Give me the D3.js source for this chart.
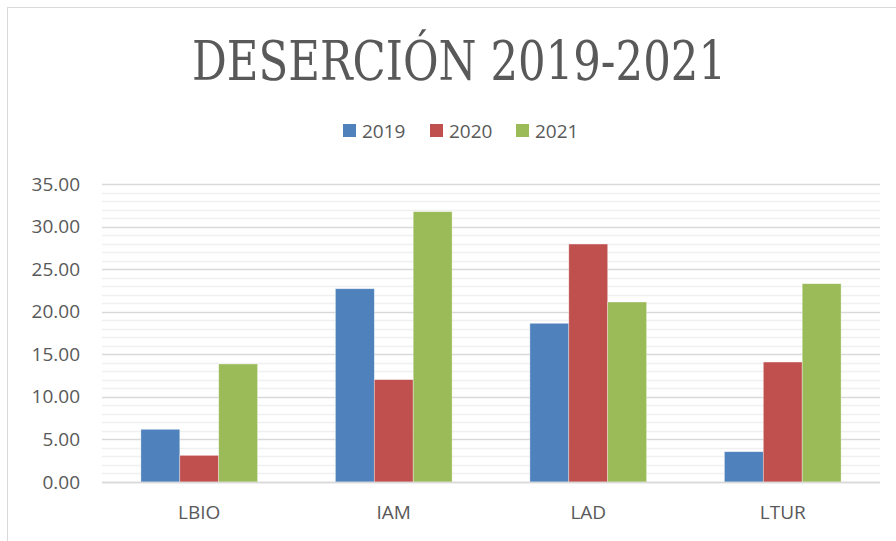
<!DOCTYPE html>
<meta charset="utf-8">
<style>
body { margin: 0; background: #fff; }
text { fill: #595959; }
</style>
<svg width="896" height="541"></svg>
<script src="https://d3js.org/d3.v7.min.js"></script>
<script>

var categories = ["LBIO", "IAM", "LAD", "LTUR"];
var seriesNames = ["2019", "2020", "2021"];
var values2019 = [6.19, 22.70, 18.64, 3.56];
var values2020 = [3.13, 12.02, 27.95, 14.09];
var values2021 = [13.86, 31.75, 21.14, 23.29];
var yTicks = [0, 5, 10, 15, 20, 25, 30, 35];
var colours = ["#4f81bd", "#c0504d", "#9bbb59"];

var series = [values2019, values2020, values2021];

var svg = d3.select("svg"),
    width = +svg.attr("width"),
    height = +svg.attr("height");

// chart area border
svg.append("rect")
   .attr("x", 7.5).attr("y", 7.5)
   .attr("width", 900).attr("height", 540)
   .attr("fill", "#fff")
   .attr("stroke", "#d9d9d9");

var plotLeft = 102, plotRight = 880, plotTop = 184, plotBottom = 482;

var x = d3.scaleBand().domain(categories).range([plotLeft, plotRight]).paddingInner(0).paddingOuter(0);
var y = d3.scaleLinear().domain([0, 35]).range([plotBottom, plotTop]);

// minor gridlines
svg.append("g")
   .selectAll("line")
   .data(d3.range(0, 36, 1).filter(function(d) { return d % 5 != 0; }))
   .enter().append("line")
   .attr("x1", plotLeft).attr("x2", plotRight)
   .attr("y1", function(d) { return Math.round(y(d)) + 0.5; })
   .attr("y2", function(d) { return Math.round(y(d)) + 0.5; })
   .style("stroke", "#f0f0f0")
   .style("stroke-width", "1.5");

// major gridlines
svg.append("g")
   .selectAll("line")
   .data(yTicks)
   .enter().append("line")
   .attr("x1", plotLeft).attr("x2", plotRight)
   .attr("y1", function(d) { return Math.round(y(d)) + 0.5; })
   .attr("y2", function(d) { return Math.round(y(d)) + 0.5; })
   .style("stroke", "#d9d9d9")
   .style("stroke-width", "1.5");

// y axis labels
var yAxis = d3.axisLeft(y).tickValues(yTicks).tickFormat(d3.format(".2f")).tickSize(0).tickPadding(0);
var ya = svg.append("g")
   .attr("transform", "translate(80,0)")
   .call(yAxis);
ya.select(".domain").remove();
ya.selectAll("text")
   .style("font-family", "'Open Sans', sans-serif")
   .style("font-size", "19px")
   .attr("fill", "#595959");

// bars
var barW = x.bandwidth() / 5;
var groups = svg.append("g");
series.forEach(function(vals, s) {
  groups.append("g")
     .selectAll("rect")
     .data(vals)
     .enter().append("rect")
     .attr("x", function(d, i) { return x(categories[i]) + barW + s * barW; })
     .attr("y", function(d) { return y(d); })
     .attr("width", barW)
     .attr("height", function(d) { return y(0) - y(d); })
     .attr("fill", colours[s])
     .attr("stroke", "rgba(255,255,255,0.5)")
     .attr("stroke-width", 0.7);
});

// baseline
svg.append("line")
   .attr("x1", plotLeft).attr("x2", plotRight)
   .attr("y1", y(0) + 0.5).attr("y2", y(0) + 0.5)
   .style("stroke", "#d9d9d9")
   .style("stroke-width", "1.5");

// x axis labels
var xAxis = d3.axisBottom(x).tickSize(0).tickPadding(0);
var xa = svg.append("g")
   .attr("transform", "translate(0,505)")
   .call(xAxis);
xa.select(".domain").remove();
xa.selectAll("text")
   .style("font-family", "'Open Sans', sans-serif")
   .style("font-size", "19px")
   .attr("fill", "#595959");

// title
svg.append("text")
   .attr("x", 459)
   .attr("y", 80)
   .attr("text-anchor", "middle")
   .attr("textLength", 534)
   .attr("lengthAdjust", "spacingAndGlyphs")
   .style("font-family", "'DejaVu Serif Condensed', 'DejaVu Serif', serif")
   .style("font-size", "54px")
   .attr("fill", "#595959")
   .text("DESERCIÓN 2019-2021");

// legend
var legendX = [343, 430, 516];
var legend = svg.append("g");
seriesNames.forEach(function(name, i) {
  legend.append("rect")
     .attr("x", legendX[i]).attr("y", 124)
     .attr("width", 13).attr("height", 13)
     .attr("fill", colours[i]);
  legend.append("text")
     .attr("x", legendX[i] + 19).attr("y", 138)
     .style("font-family", "'Open Sans', sans-serif")
     .style("font-size", "19px")
     .attr("fill", "#595959")
     .text(name);
});

</script>
